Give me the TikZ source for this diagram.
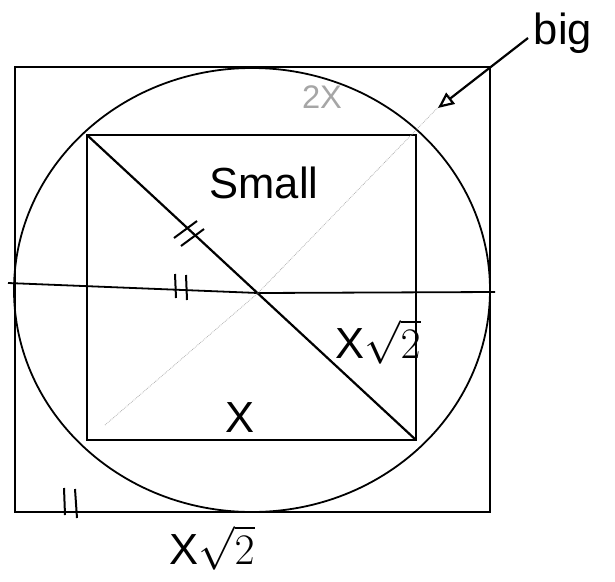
\documentclass[tikz,border=0pt]{standalone}
\usepackage{fontspec}
\setmainfont{Liberation Sans}
\usetikzlibrary{arrows.meta}
\begin{document}
\begin{tikzpicture}[x=1pt,y=-1pt,
  line/.style={line width=1.8pt,black},
  thinline/.style={line width=1.3pt,black},
  lbl/.style={font=\Huge,scale=1.75,inner sep=0pt},
  tick/.style={line width=2pt}]
\useasboundingbox (0,0) rectangle (615,581);
% outer square
\draw[thinline] (15,67) rectangle (490,512);
% circle
\draw[line] (252,290) ellipse [x radius=238, y radius=222];
% inner square
\draw[thinline] (87,135) rectangle (416,440);
% horizontal line
\draw[line] (8,283) -- (258,293) -- (495,292);
% diagonal
\draw[line width=2.2pt] (87,135) -- (416,440);
% faint diagonal
\draw[gray!60,densely dotted,line width=0.8pt] (105,425) -- (258,293) -- (450,95);
% tick marks
\draw[tick] (174,238) -- (197,221) (181,246) -- (204,229);
\draw[tick] (175,274) -- (176,298) (186,275) -- (187,300);
\draw[tick] (64,488) -- (65,515) (75,489) -- (77,518);
% labels
\node[lbl] (small) at (264,183) {Small};
\node[lbl] (x) at (240,418) {X};
\node[lbl] (xr) at (378,342) {X$\sqrt{2}$};
\node[lbl] (xrb) at (212,548) {X$\sqrt{2}$};
\node[lbl,gray!70,scale=0.75] (twox) at (322,97) {2X};
\node[lbl] (big) at (563,33) {big};
\coordinate (tip) at (438,108);
\draw[line width=2.2pt,-{Triangle[open,length=16pt,width=14pt]}] (528,38) -- (tip);
\end{tikzpicture}
\end{document}
